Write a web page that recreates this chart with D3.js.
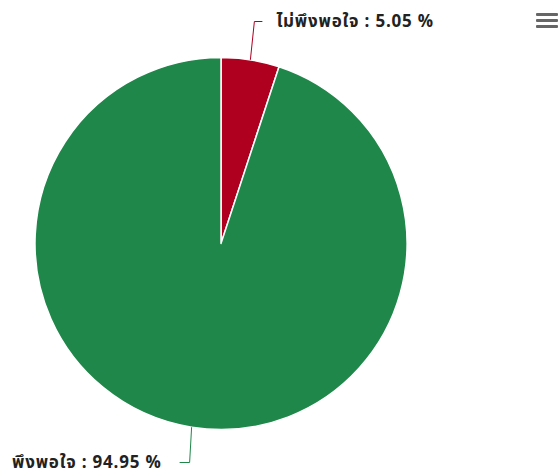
<!DOCTYPE html>
<html lang="th">
<head>
<meta charset="UTF-8">
<title>Pie</title>
<script src="https://d3js.org/d3.v7.min.js"></script>
<style>
    body { margin: 0; background: #fff; }
    svg { display: block; }
    .lbl { font-family: "Noto Sans Thai", "Noto Sans", "DejaVu Sans", sans-serif; font-weight: bold; font-size: 17px; letter-spacing: 0.8px; fill: #222; }
</style>
</head>
<body>
<div id="chart"></div>
<script>
// data
var categories = ["ไม่พึงพอใจ", "พึงพอใจ"];
var values = [5.05, 94.95];
var colors = ["#b00020", "#1f8749"];

var width = 560, height = 475;
var cx = 221, cy = 243.5, r = 186;

var svg = d3.select("#chart").append("svg")
    .attr("width", width)
    .attr("height", height);

var pie = d3.pie().sort(null).value(function(d){ return d; });
var arcs = pie(values);
var arc = d3.arc().innerRadius(0).outerRadius(r);

var g = svg.append("g").attr("transform", "translate(" + cx + "," + cy + ")");

g.selectAll("path")
    .data(arcs)
    .enter()
    .append("path")
    .attr("d", arc)
    .attr("fill", function(d, i){ return colors[i]; })
    .attr("stroke", "#fff")
    .attr("stroke-width", 1.5)
    .attr("stroke-linejoin", "round");

// labels with connectors
arcs.forEach(function(d, i){
    var mid = (d.startAngle + d.endAngle) / 2;
    var px = Math.sin(mid) * r, py = -Math.cos(mid) * r;
    var top = py < 0;
    var right = px > 0;
    var ey = top ? -r - 36 : r + 33;
    var ex = px + (right ? 4 : -2);
    var hx = ex + (right ? 8 : -10);
    g.append("path")
        .attr("d", "M" + px + "," + py + "L" + ex + "," + ey + "L" + hx + "," + ey)
        .attr("fill", "none")
        .attr("stroke", colors[i])
        .attr("stroke-width", 1);
    g.append("text")
        .attr("class", "lbl")
        .attr("x", right ? hx + 14 : hx - 18)
        .attr("y", ey)
        .attr("dy", "0.35em")
        .attr("text-anchor", right ? "start" : "end")
        .text(categories[i] + " : " + d3.format(".2f")(values[i]) + " %");
});

// menu icon
var menu = svg.append("g").attr("transform", "translate(536,13)");
[0, 6, 12].forEach(function(y){
    menu.append("rect")
        .attr("x", 0).attr("y", y)
        .attr("width", 22).attr("height", 3)
        .attr("rx", 1)
        .attr("fill", "#666");
});
</script>
</body>
</html>
